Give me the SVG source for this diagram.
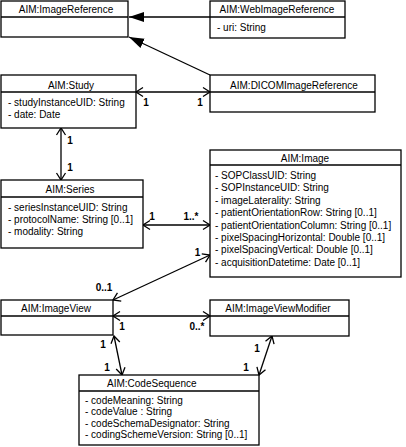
<svg xmlns="http://www.w3.org/2000/svg" width="406" height="447" viewBox="0 0 406 447">
<style>
.box{fill:#fff;stroke:#000;stroke-width:1.3}
.sep{stroke:#000;stroke-width:1.3}
.t{font-family:"Liberation Sans",Arial,sans-serif;font-size:10px;fill:#000}
.c{text-anchor:middle}
.lb{font-family:"Liberation Sans",Arial,sans-serif;font-size:10px;font-weight:bold;fill:#000;text-anchor:middle}
.ln{stroke:#000;stroke-width:1.3;fill:none}
</style>
<defs>
<marker id="tri" markerUnits="userSpaceOnUse" markerWidth="16" markerHeight="12" viewBox="0 0 16 12" refX="15" refY="6" orient="auto">
<path d="M0,1 L15,6 L0,11 Z" fill="#000"/>
</marker>
<marker id="open" markerUnits="userSpaceOnUse" markerWidth="10" markerHeight="12" viewBox="0 0 10 12" refX="8" refY="6" orient="auto-start-reverse">
<path d="M1,1.5 L8,6 L1,10.5" fill="none" stroke="#000" stroke-width="1.3"/>
</marker>
</defs>
<g id="connectors">
<line class="ln" x1="210" y1="17" x2="129" y2="17" marker-end="url(#tri)"/>
<line class="ln" x1="210" y1="75" x2="129" y2="37" marker-end="url(#tri)"/>
<line class="ln" x1="136" y1="92" x2="210" y2="92" marker-start="url(#open)" marker-end="url(#open)"/>
<line class="ln" x1="61" y1="128" x2="61" y2="180" marker-start="url(#open)" marker-end="url(#open)"/>
<line class="ln" x1="143" y1="225" x2="210" y2="225" marker-start="url(#open)" marker-end="url(#open)"/>
<line class="ln" x1="113" y1="300" x2="210" y2="255" marker-start="url(#open)" marker-end="url(#open)"/>
<line class="ln" x1="113" y1="316" x2="210" y2="316" marker-start="url(#open)" marker-end="url(#open)"/>
<line class="ln" x1="114" y1="336" x2="122" y2="375" marker-start="url(#open)" marker-end="url(#open)"/>
<line class="ln" x1="272" y1="336" x2="259" y2="375" marker-start="url(#open)" marker-end="url(#open)"/>
<text class="lb" x="146" y="106">1</text>
<text class="lb" x="200" y="106">1</text>
<text class="lb" x="70" y="143.5">1</text>
<text class="lb" x="70" y="171">1</text>
<text class="lb" x="152" y="219.5">1</text>
<text class="lb" x="191" y="219.5">1..*</text>
<text class="lb" x="197.5" y="256">1</text>
<text class="lb" x="104" y="290.5">0..1</text>
<text class="lb" x="122" y="329.5">1</text>
<text class="lb" x="197" y="329.5">0..*</text>
<text class="lb" x="103" y="347.5">1</text>
<text class="lb" x="107" y="370.5">1</text>
<text class="lb" x="257" y="352">1</text>
<text class="lb" x="246" y="370.5">1</text>
</g>
<g id="ImageReference">
<rect class="box" x="1" y="1" width="127" height="36"/>
<line class="sep" x1="1" y1="17" x2="128" y2="17"/>
<text class="t c" x="66" y="13">AIM:ImageReference</text>
</g>
<g id="WebImageReference">
<rect class="box" x="210" y="1" width="135" height="37"/>
<line class="sep" x1="210" y1="17" x2="345" y2="17"/>
<text class="t c" x="277" y="13">AIM:WebImageReference</text>
<text class="t" x="217" y="31">- uri: String</text>
</g>
<g id="Study">
<rect class="box" x="1" y="75" width="135" height="53"/>
<line class="sep" x1="1" y1="92" x2="136" y2="92"/>
<text class="t c" x="71" y="88.5">AIM:Study</text>
<text class="t" x="8" y="106">- studyInstanceUID: String</text>
<text class="t" x="8" y="118">- date: Date</text>
</g>
<g id="DICOMImageReference">
<rect class="box" x="210" y="75" width="165" height="37"/>
<line class="sep" x1="210" y1="92" x2="375" y2="92"/>
<text class="t c" x="294" y="88.5">AIM:DICOMImageReference</text>
</g>
<g id="Series">
<rect class="box" x="1" y="180" width="142" height="68"/>
<line class="sep" x1="1" y1="197" x2="143" y2="197"/>
<text class="t c" x="70" y="192.5">AIM:Series</text>
<text class="t" x="8" y="211">- seriesInstanceUID: String</text>
<text class="t" x="8" y="223">- protocolName: String [0..1]</text>
<text class="t" x="8" y="234.5">- modality: String</text>
</g>
<g id="Image">
<rect class="box" x="210" y="150" width="191" height="127"/>
<line class="sep" x1="210" y1="165" x2="401" y2="165"/>
<text class="t c" x="305" y="161.5">AIM:Image</text>
<text class="t" x="215" y="179">- SOPClassUID: String</text>
<text class="t" x="215" y="191.4">- SOPInstanceUID: String</text>
<text class="t" x="215" y="203.8">- imageLaterality: String</text>
<text class="t" x="215" y="216.2">- patientOrientationRow: String [0..1]</text>
<text class="t" x="215" y="228.6">- patientOrientationColumn: String [0..1]</text>
<text class="t" x="215" y="241">- pixelSpacingHorizontal: Double [0..1]</text>
<text class="t" x="215" y="253.4">- pixelSpacingVertical: Double [0..1]</text>
<text class="t" x="215" y="265.8">- acquisitionDatetime: Date [0..1]</text>
</g>
<g id="ImageView">
<rect class="box" x="1" y="300" width="112" height="35"/>
<line class="sep" x1="1" y1="316" x2="113" y2="316"/>
<text class="t c" x="56" y="311.5">AIM:ImageView</text>
</g>
<g id="ImageViewModifier">
<rect class="box" x="210" y="300" width="139" height="36"/>
<line class="sep" x1="210" y1="316" x2="349" y2="316"/>
<text class="t c" x="278" y="311.5">AIM:ImageViewModifier</text>
</g>
<g id="CodeSequence">
<rect class="box" x="79" y="375" width="180" height="70"/>
<line class="sep" x1="79" y1="391" x2="259" y2="391"/>
<text class="t" x="107" y="387">AIM:CodeSequence</text>
<text class="t" x="85" y="404">- codeMeaning: String</text>
<text class="t" x="85" y="415.3">- codeValue : String</text>
<text class="t" x="85" y="426.6">- codeSchemaDesignator: String</text>
<text class="t" x="85" y="438">- codingSchemeVersion: String [0..1]</text>
</g>
</svg>
